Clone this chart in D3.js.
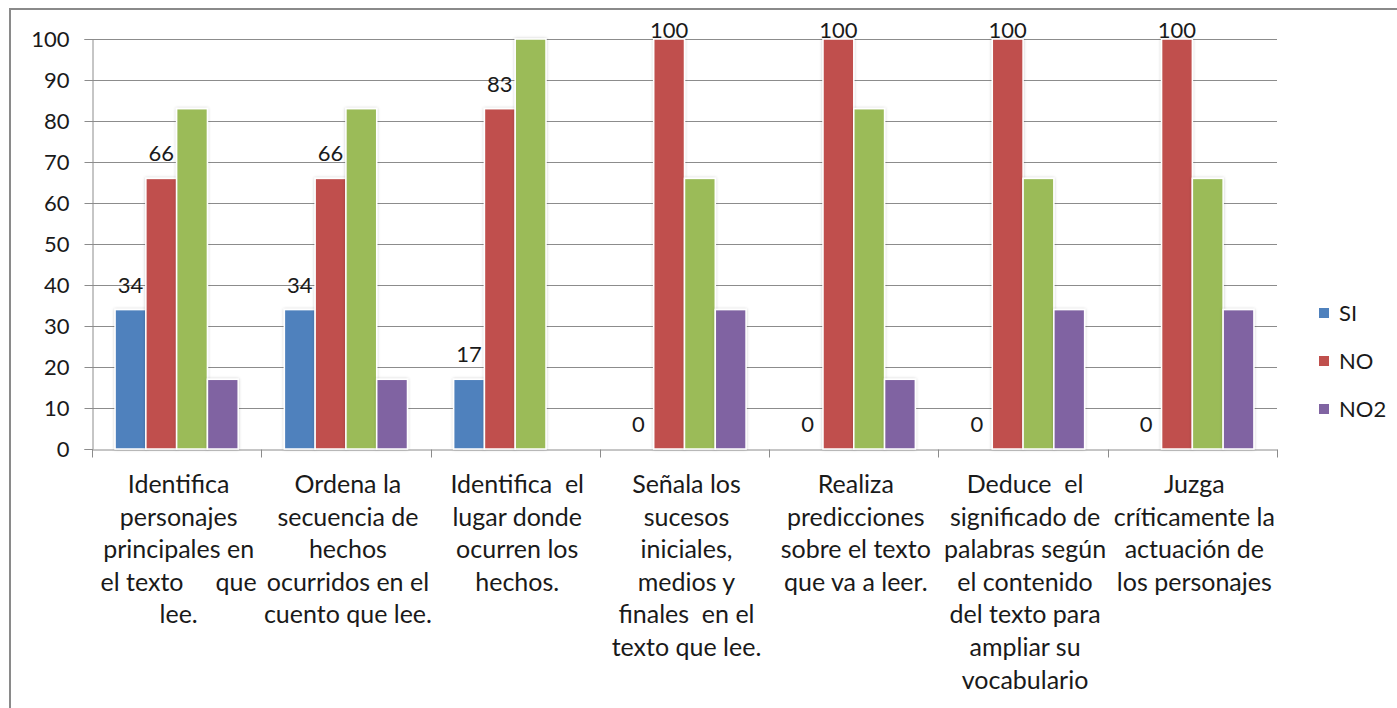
<!DOCTYPE html>
<html>
<head>
<meta charset="utf-8">
<script src="https://cdn.jsdelivr.net/npm/d3@7"></script>
<style>
  body { margin: 0; background: #fff; }
  svg text { font-family: Lato, "Open Sans", sans-serif; fill: #1a1a1a; }
</style>
</head>
<body>
<div id="chart"></div>
<script>
// category labels, already broken into lines the way the chart shows them
const categoryLines = [
  ["Identifica", "personajes", "principales en", "el texto     que", "lee."],
  ["Ordena la", "secuencia de", "hechos", "ocurridos en el", "cuento que lee."],
  ["Identifica  el", "lugar donde", "ocurren los", "hechos."],
  ["Señala los", "sucesos", "iniciales,", "medios y", "finales  en el", "texto que lee."],
  ["Realiza", "predicciones", "sobre el texto", "que va a leer."],
  ["Deduce  el", "significado de", "palabras según", "el contenido", "del texto para", "ampliar su", "vocabulario"],
  ["Juzga", "críticamente la", "actuación de", "los personajes"]
];
const categories = categoryLines.map(l => l.join(" "));

const si  = [34, 34, 17, 0, 0, 0, 0];
const no  = [66, 66, 83, 100, 100, 100, 100];
const s3  = [83, 83, 100, 66, 83, 66, 66];
const no2 = [17, 17, 0, 34, 17, 34, 34];

const seriesNames = ["SI", "NO", "", "NO2"];
const seriesColors = ["#4F81BD", "#C0504D", "#9BBB59", "#8064A2"];
const seriesValues = [si, no, s3, no2];
const labelled = [true, true, false, false];
const legendNames = ["SI", "NO", "NO2"];

const yTicks = [0, 10, 20, 30, 40, 50, 60, 70, 80, 90, 100];

const width = 1397, height = 708;
const margin = { left: 92, right: 120, top: 39, bottom: 259 };

const svg = d3.select("#chart").append("svg")
  .attr("width", width).attr("height", height);

// soft shadow behind bars
const defs = svg.append("defs");
defs.append("filter").attr("id", "sh").attr("x", "-20%").attr("y", "-5%").attr("width", "140%").attr("height", "110%")
  .append("feDropShadow").attr("dx", 0).attr("dy", 0).attr("stdDeviation", 1.5)
  .attr("flood-color", "#000").attr("flood-opacity", 0.22);

// outer frame
svg.append("rect").attr("x", 10).attr("y", 9).attr("width", width + 20).attr("height", height + 20)
  .attr("fill", "none").attr("stroke", "#8a8a8a").attr("stroke-width", 2);

const x = d3.scaleBand().domain(categories).range([margin.left, width - margin.right]);
// gap width 150%: bar = band / 5.5
const barW = x.bandwidth() / 5.5;
const xs = d3.scaleBand().domain(d3.range(4)).range([0.75 * barW, 4.75 * barW]).padding(0);

const y = d3.scaleLinear().domain([0, 100]).range([height - margin.bottom, margin.top]);

// gridlines
svg.append("g").selectAll("line").data(yTicks.filter(d => d > 0)).join("line")
  .attr("x1", margin.left).attr("x2", x.range()[1])
  .attr("y1", d => y(d) + 0.5).attr("y2", d => y(d) + 0.5)
  .attr("stroke", "#8c8c8c").attr("stroke-width", 1);

// y axis
const yAxis = svg.append("g").attr("transform", `translate(${margin.left + 0.5},0)`)
  .call(d3.axisLeft(y).tickValues(yTicks).tickSize(8).tickPadding(15));
yAxis.select(".domain").attr("stroke", "#8c8c8c");
yAxis.selectAll(".tick line").attr("stroke", "#8c8c8c");
yAxis.selectAll(".tick text").style("font-size", "22px").attr("fill", "#1a1a1a");

// x axis
const xAxis = svg.append("g").attr("transform", `translate(0,${y(0) + 0.5})`)
  .call(d3.axisBottom(x).tickSize(0).tickFormat(""));
xAxis.select(".domain").attr("stroke", "#8c8c8c");
const bounds = categories.map(c => x(c)).concat([x.range()[1]]);
xAxis.selectAll(".sep").data(bounds).join("line").attr("class", "sep")
  .attr("x1", d => Math.round(d) + 0.5).attr("x2", d => Math.round(d) + 0.5)
  .attr("y1", 0).attr("y2", 8).attr("stroke", "#8c8c8c");

// bars
const groups = svg.append("g").selectAll("g").data(categories).join("g")
  .attr("transform", c => `translate(${x(c)},0)`);

groups.each(function (c, i) {
  const g = d3.select(this);
  seriesValues.forEach((vals, s) => {
    const v = vals[i];
    if (v > 0) {
      g.append("rect")
        .attr("x", xs(s)).attr("width", barW)
        .attr("y", y(v)).attr("height", y(0) - y(v))
        .attr("fill", seriesColors[s])
        .attr("stroke", "#fff").attr("stroke-width", 1.5)
        .attr("filter", "url(#sh)");
    }
    if (labelled[s]) {
      g.append("text")
        .attr("x", xs(s) + barW / 2)
        .attr("y", Math.max(y(v) - 17, y(100) - 1))
        .attr("text-anchor", "middle")
        .style("font-size", "22px")
        .text(v);
    }
  });
});

// category labels
groups.append("text")
  .attr("text-anchor", "middle")
  .style("font-size", "25px")
  .style("white-space", "pre")
  .attr("xml:space", "preserve")
  .selectAll("tspan").data((c, i) => categoryLines[i]).join("tspan")
  .attr("x", x.bandwidth() / 2 + 2)
  .attr("y", (d, k) => 493 + k * 32.6)
  .text(d => d);

// legend
const legend = svg.append("g").attr("transform", "translate(1319,0)");
legendNames.forEach((n, k) => {
  const s = seriesNames.indexOf(n);
  const ly = 313 + k * 48;
  legend.append("rect").attr("x", 0).attr("y", ly - 5).attr("width", 10).attr("height", 10)
    .attr("fill", seriesColors[s]);
  legend.append("text").attr("x", 20).attr("y", ly + 8).style("font-size", "22px").text(n);
});
</script>
</body>
</html>
